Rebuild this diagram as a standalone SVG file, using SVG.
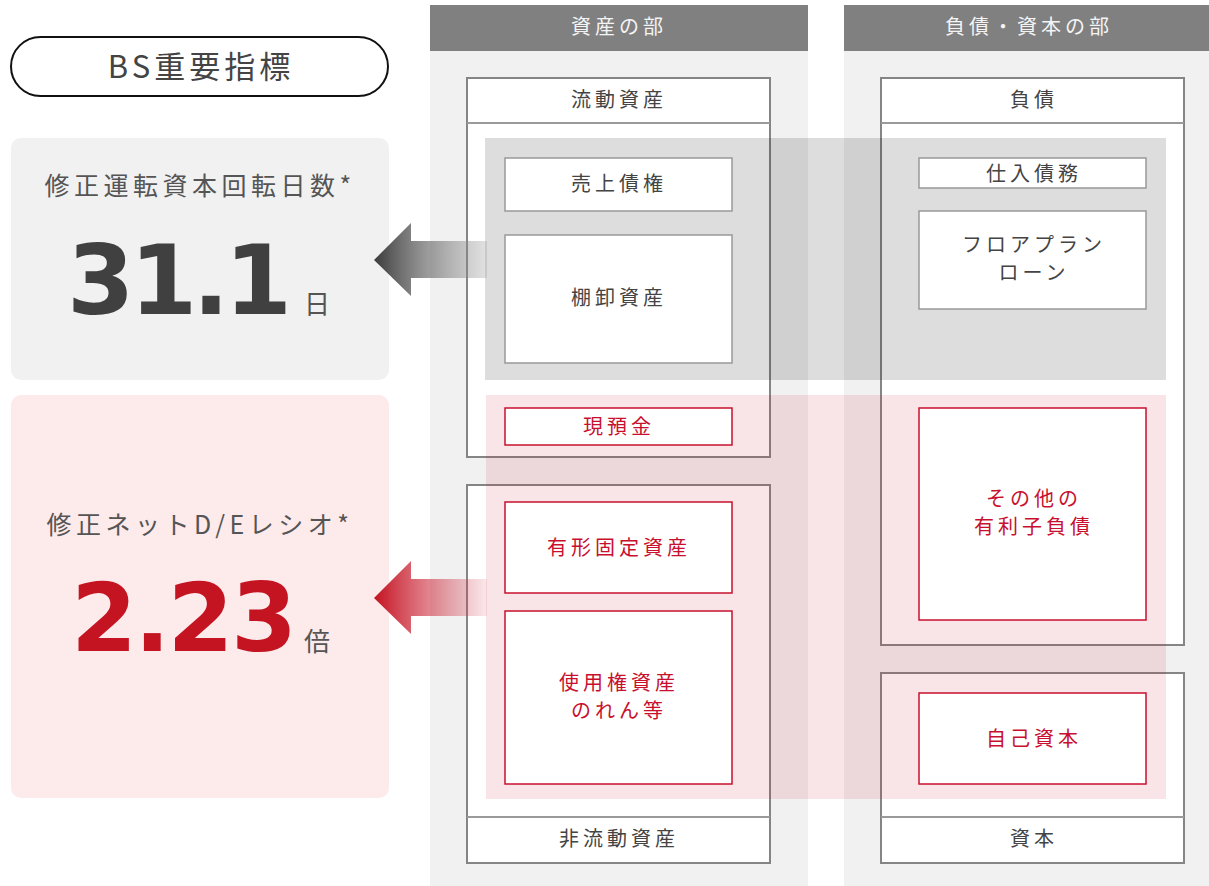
<svg xmlns="http://www.w3.org/2000/svg" width="1209" height="886" viewBox="0 0 1209 886">
<defs>
<style>
.jp{font-family:"Noto Sans CJK JP","Noto Sans",sans-serif;}
.lbl{font-size:20px;letter-spacing:4px;text-anchor:middle;fill:#444;}
.red{fill:#c8102e;}
.hdr{font-size:20px;letter-spacing:4px;text-anchor:middle;fill:#f4f4f4;}
.outer{fill:#fff;stroke:#858585;stroke-width:2;}
.div{stroke:#9a9a9a;stroke-width:2;}
.gbox{fill:#fff;stroke:#999;stroke-width:1.5;}
.rbox{fill:#fff;stroke:#c8102e;stroke-width:1.5;}
</style>
<linearGradient id="gArrow" x1="374" y1="0" x2="487" y2="0" gradientUnits="userSpaceOnUse">
<stop offset="0" stop-color="#3c3c3c"/>
<stop offset="1" stop-color="#9a9a9a" stop-opacity="0.3"/>
</linearGradient>
<linearGradient id="rArrow" x1="374" y1="0" x2="487" y2="0" gradientUnits="userSpaceOnUse">
<stop offset="0" stop-color="#c41422"/>
<stop offset="1" stop-color="#d23c50" stop-opacity="0.12"/>
</linearGradient>
</defs>
<rect width="1209" height="886" fill="#fff"/>

<g id="title">
<rect x="11" y="37" width="377" height="59" rx="29.5" fill="#fff" stroke="#111" stroke-width="2"/>
<text class="jp" x="201" y="78" font-size="31" letter-spacing="4" text-anchor="middle" fill="#444">BS重要指標</text>
</g>

<g id="card-wc">
<rect x="11" y="138" width="378" height="242" rx="10" fill="#f1f1f1"/>
<text class="jp" x="200" y="195" font-size="25" letter-spacing="4.5" text-anchor="middle" fill="#555">修正運転資本回転日数*</text>
<text x="67" y="314" font-family="DejaVu Sans" font-weight="bold" font-size="97" fill="#404040" textLength="225" lengthAdjust="spacing">31.1</text>
<text class="jp" x="304" y="314" font-size="26" fill="#555">日</text>
</g>

<g id="card-de">
<rect x="11" y="395" width="378" height="403" rx="10" fill="#fdeaeb"/>
<text class="jp" x="200" y="534" font-size="25" letter-spacing="4.5" text-anchor="middle" fill="#555">修正ネットD/Eレシオ*</text>
<text x="71" y="651" font-family="DejaVu Sans" font-weight="bold" font-size="95" fill="#c41422" textLength="226" lengthAdjust="spacing">2.23</text>
<text class="jp" x="304" y="651" font-size="26" fill="#555">倍</text>
</g>

<g id="col-assets">
<rect x="430" y="5" width="378" height="881" fill="#f1f1f1"/>
<rect x="430" y="5" width="378" height="46" fill="#808080"/>
<text class="jp hdr" x="619" y="34">資産の部</text>
</g>
<g id="col-liab">
<rect x="844" y="5" width="365" height="881" fill="#f1f1f1"/>
<rect x="844" y="5" width="365" height="46" fill="#808080"/>
<text class="jp hdr" x="1029" y="34">負債・資本の部</text>
</g>

<g id="current-assets">
<rect class="outer" x="467" y="78" width="303" height="379"/>
<line class="div" x1="467" y1="123" x2="770" y2="123"/>
<text class="jp lbl" x="619" y="107">流動資産</text>
</g>
<g id="noncurrent-assets">
<rect class="outer" x="467" y="485" width="303" height="378"/>
<line class="div" x1="467" y1="817" x2="770" y2="817"/>
<text class="jp lbl" x="619" y="846">非流動資産</text>
</g>
<g id="liabilities">
<rect class="outer" x="881" y="78" width="303" height="567"/>
<line class="div" x1="881" y1="123" x2="1184" y2="123"/>
<text class="jp lbl" x="1034" y="107">負債</text>
</g>
<g id="equity">
<rect class="outer" x="881" y="673" width="303" height="190"/>
<line class="div" x1="881" y1="817" x2="1184" y2="817"/>
<text class="jp lbl" x="1034" y="846">資本</text>
</g>

<g id="band-wc">
<rect x="485" y="138" width="681" height="242" fill="#000" fill-opacity="0.135"/>
</g>
<g id="band-de">
<rect x="486" y="395" width="680" height="404" fill="rgb(200,20,40)" fill-opacity="0.115"/>
</g>

<g id="receivables">
<rect class="gbox" x="505" y="158" width="227" height="53"/>
<text class="jp lbl" x="619" y="191">売上債権</text>
</g>
<g id="inventory">
<rect class="gbox" x="505" y="235" width="227" height="128"/>
<text class="jp lbl" x="619" y="305">棚卸資産</text>
</g>
<g id="cash">
<rect class="rbox" x="505" y="408" width="227" height="37"/>
<text class="jp lbl red" x="619" y="434">現預金</text>
</g>
<g id="ppe">
<rect class="rbox" x="505" y="502" width="227" height="91"/>
<text class="jp lbl red" x="619" y="555">有形固定資産</text>
</g>
<g id="rou">
<rect class="rbox" x="505" y="611" width="227" height="173"/>
<text class="jp lbl red" x="619" y="690">使用権資産</text>
<text class="jp lbl red" x="619" y="718">のれん等</text>
</g>
<g id="payables">
<rect class="gbox" x="919" y="158" width="227" height="30"/>
<text class="jp lbl" x="1034" y="181">仕入債務</text>
</g>
<g id="floorplan">
<rect class="gbox" x="919" y="211" width="227" height="98"/>
<text class="jp lbl" x="1034" y="252">フロアプラン</text>
<text class="jp lbl" x="1034" y="280">ローン</text>
</g>
<g id="other-debt">
<rect class="rbox" x="919" y="408" width="227" height="212"/>
<text class="jp lbl red" x="1034" y="506">その他の</text>
<text class="jp lbl red" x="1034" y="534">有利子負債</text>
</g>
<g id="own-capital">
<rect class="rbox" x="919" y="693" width="227" height="91"/>
<text class="jp lbl red" x="1034" y="746">自己資本</text>
</g>

<g id="connectors">
<polygon points="374,260 411,223 411,241 487,241 487,278 411,278 411,296" fill="url(#gArrow)"/>
<polygon points="374,598 411,561 411,579 487,579 487,616 411,616 411,634" fill="url(#rArrow)"/>
</g>
</svg>
